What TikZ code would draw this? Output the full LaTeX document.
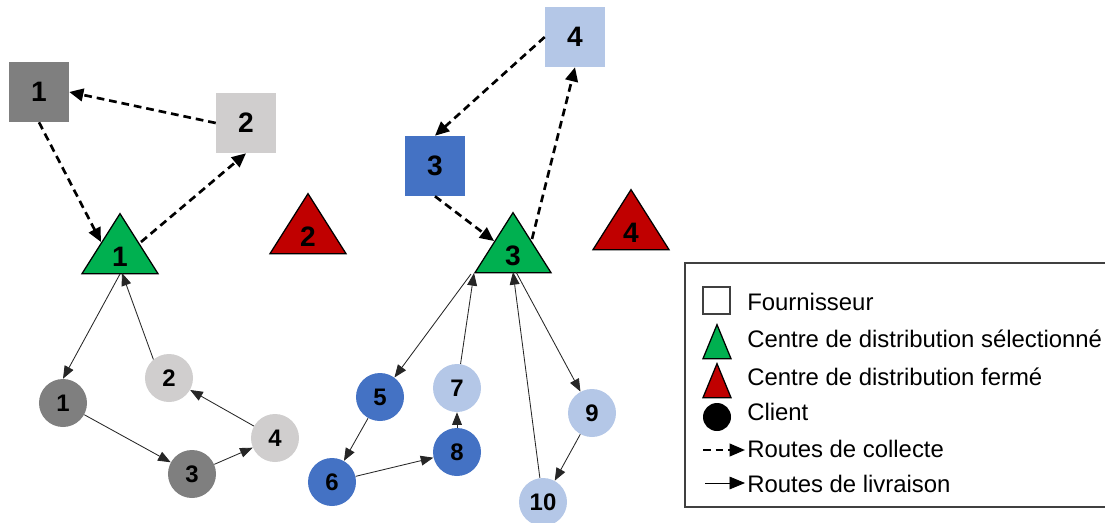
\documentclass[tikz,border=0pt]{standalone}
\usepackage{fontspec}
\setmainfont{Liberation Sans}
\usetikzlibrary{shapes.geometric,arrows.meta,calc}
\definecolor{darkgrey}{HTML}{7F7F7F}
\definecolor{lightgrey}{HTML}{D0CECE}
\definecolor{darkblue}{HTML}{4472C4}
\definecolor{lightblue}{HTML}{B4C7E7}
\definecolor{opengreen}{HTML}{00B050}
\definecolor{closedred}{HTML}{C00000}
\definecolor{framegrey}{HTML}{404040}
\tikzset{
  supplier/.style={rectangle, minimum size=1.5cm, inner sep=0pt, font=\fontsize{20}{24}\selectfont\bfseries},
  depot/.style={isosceles triangle, isosceles triangle stretches, shape border rotate=90, draw=black, line width=0.9pt, minimum width=1.9cm, minimum height=1.5cm, inner sep=0pt, anchor=apex, text height=0.68cm, text depth=0pt, font=\fontsize{20}{24}\selectfont\bfseries},
  client/.style={circle, minimum size=1.2cm, inner sep=0pt, font=\fontsize{17}{20}\selectfont\bfseries},
  collecte/.style={line width=1.9pt, dash pattern=on 5.5pt off 3.5pt, -{Triangle[length=10pt,width=9pt]}},
  livraison/.style={line width=0.6pt, draw=black!85, -{Triangle[length=9pt,width=7pt]}},
  keytext/.style={anchor=base west, inner sep=0pt, font=\fontsize{17}{20}\selectfont}
}
\begin{document}
\begin{tikzpicture}[x=0.025cm, y=-0.025cm]
\useasboundingbox (0,0) rectangle (1105,522);
\clip (0,0) rectangle (1105,522);

\node[supplier, fill=darkgrey] (s1) at (39,92) {1};
\node[supplier, fill=lightgrey] (s2) at (246,123) {2};
\node[supplier, fill=darkblue] (s3) at (435,166) {3};
\node[supplier, fill=lightblue] (s4) at (575,37) {4};

\node[depot, fill=opengreen] (t1) at (120,212) {1};
\node[depot, fill=closedred] (t2) at (308,192) {2};
\node[depot, fill=opengreen] (t3) at (513,211) {3};
\node[depot, fill=closedred] (t4) at (631,188) {4};

\node[client, fill=darkgrey] (c1) at (63,403) {1};
\node[client, fill=lightgrey] (c2) at (169,378) {2};
\node[client, fill=darkgrey] (c3) at (192,474) {3};
\node[client, fill=lightgrey] (c4) at (275,438) {4};
\node[client, fill=darkblue] (c5) at (380,397) {5};
\node[client, fill=darkblue] (c6) at (332,482) {6};
\node[client, fill=lightblue] (c7) at (457,388) {7};
\node[client, fill=darkblue] (c8) at (457,452) {8};
\node[client, fill=lightblue] (c9) at (592,413) {9};
\node[client, fill=lightblue] (c10) at (543,502) {10};

\draw[collecte] (s2.west) -- (s1.east);
\draw[collecte] (s1.south) -- ($(t1.apex)+(-19,30)$);
\draw[collecte] ($(t1.apex)+(21,30)$) -- (s2.south);
\draw[collecte] (s4.west) -- (s3.north);
\draw[collecte] (s3.south) -- ($(t3.apex)+(-19,30)$);
\draw[collecte] ($(t3.apex)+(19,28)$) -- (s4.south);

\draw[livraison] ($(t1.apex)+(0,62)$) -- (c1.north);
\draw[livraison] (c1) -- (c3);
\draw[livraison] (c3) -- (c4);
\draw[livraison] (c4) -- (c2);
\draw[livraison] (c2.130) -- ($(t1.apex)+(2,61)$);
\draw[livraison] ($(t3.apex)+(-42,63)$) -- (c5);
\draw[livraison] (c5) -- (c6);
\draw[livraison] (c6) -- (c8);
\draw[livraison] (c8) -- (c7);
\draw[livraison] (c7) -- ($(t3.apex)+(-39,62)$);
\draw[livraison] ($(t3.apex)+(3,61)$) -- (c9);
\draw[livraison] (c9) -- (c10);
\draw[livraison] (c10) -- ($(t3.apex)+(0,61)$);

\draw[framegrey, line width=1.4pt] (685,263) rectangle (1130,507);
\node[supplier, fill=white, draw=framegrey, line width=1pt, minimum size=0.675cm] (ksupplier) at (716.5,300.5) {};
\node[depot, fill=opengreen, minimum width=0.7cm, minimum height=0.85cm, text height=0pt] (kopen) at (717,323) {};
\node[depot, fill=closedred, minimum width=0.7cm, minimum height=0.85cm, text height=0pt] (kclosed) at (717,362) {};
\node[client, fill=black, minimum size=0.7cm] (kclient) at (717,417) {};
\coordinate (kcollA) at (703,450);
\coordinate (kcollB) at (745,450);
\coordinate (klivA) at (705,483);
\coordinate (klivB) at (745,483);
\draw[collecte, line width=1.6pt, -{Triangle[length=11pt,width=9pt]}] (kcollA) -- (kcollB);
\draw[livraison, draw=black, -{Triangle[length=11pt,width=9pt]}] (klivA) -- (klivB);
\node[keytext] (ksupplierlabel) at (747,310) {Fournisseur};
\node[keytext] (kopenlabel) at (747,347) {Centre de distribution sélectionné};
\node[keytext] (kclosedlabel) at (747,385) {Centre de distribution fermé};
\node[keytext] (kclientlabel) at (747,420) {Client};
\node[keytext] (kcolllabel) at (747,457) {Routes de collecte};
\node[keytext] (klivlabel) at (747,492) {Routes de livraison};
\end{tikzpicture}
\end{document}
